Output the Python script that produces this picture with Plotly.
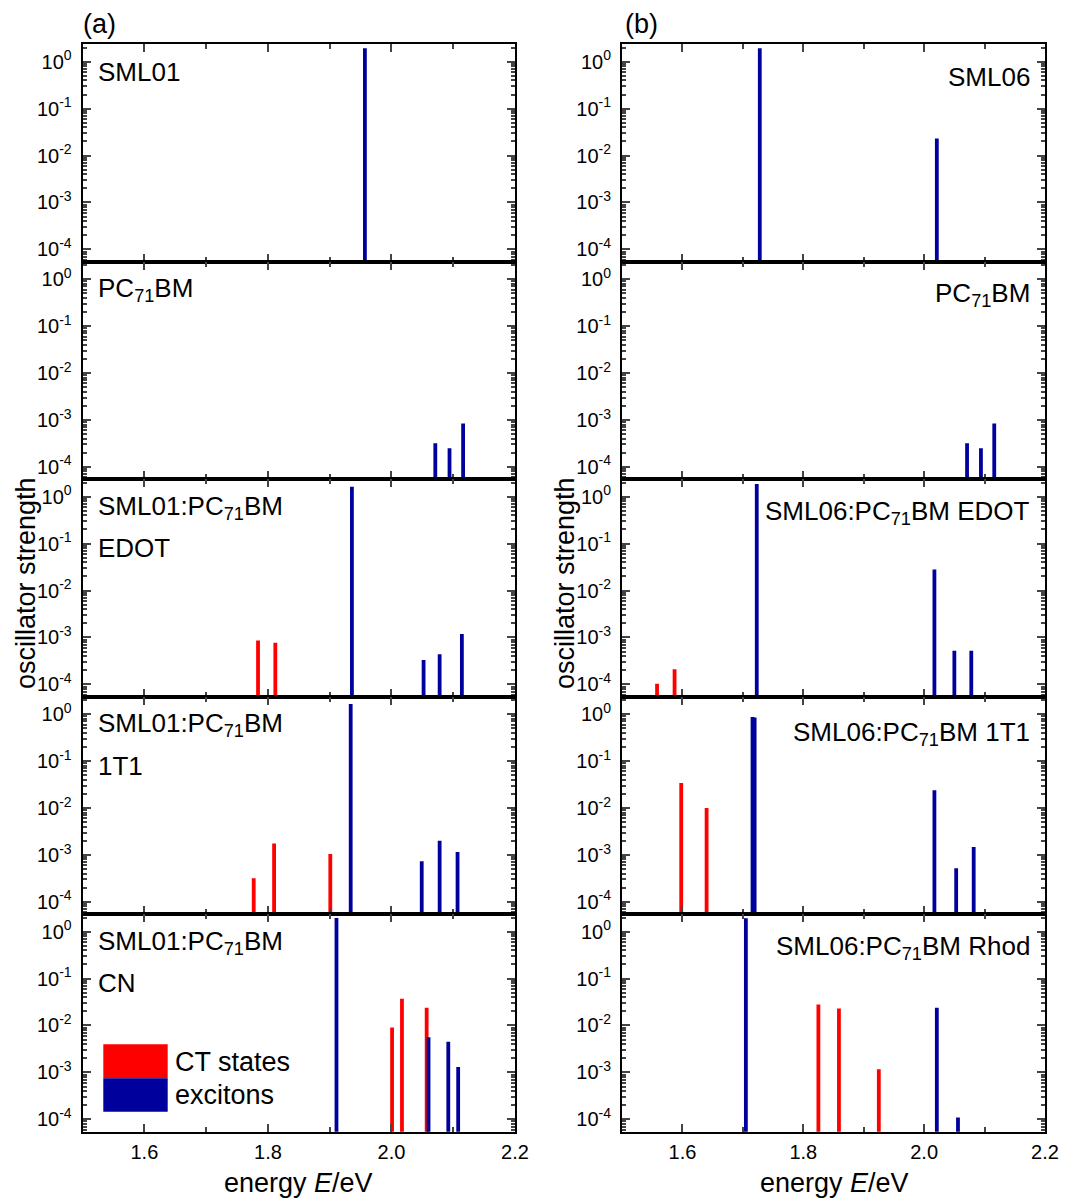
import plotly.graph_objects as go
from plotly.subplots import make_subplots

W, H = 1076, 1202
RED = "#ff0000"
BLUE = "#00009c"
FONT = "Arial, Liberation Sans, sans-serif"

# ---------------- data (energy in eV, oscillator strength) ----------------
# column (a)
sml01_exc_E = [1.957]
sml01_exc_f = [1.93]

pcbm_exc_E = [2.071, 2.094, 2.116]
pcbm_exc_f = [3.2e-4, 2.5e-4, 8.4e-4]

sml01_edot_ct_E = [1.784, 1.812]
sml01_edot_ct_f = [8.6e-4, 7.7e-4]
sml01_edot_exc_E = [1.936, 2.052, 2.078, 2.114]
sml01_edot_exc_f = [1.63, 3.3e-4, 4.4e-4, 1.18e-3]

sml01_1t1_ct_E = [1.777, 1.810, 1.901]
sml01_1t1_ct_f = [3.2e-4, 1.75e-3, 1.05e-3]
sml01_1t1_exc_E = [1.934, 2.049, 2.078, 2.107]
sml01_1t1_exc_f = [1.64, 7.3e-4, 2.0e-3, 1.16e-3]

sml01_cn_ct_E = [2.001, 2.017, 2.057]
sml01_cn_ct_f = [9.0e-3, 3.7e-2, 2.4e-2]
sml01_cn_exc_E = [1.911, 2.060, 2.092, 2.108]
sml01_cn_exc_f = [1.94, 5.6e-3, 4.5e-3, 1.3e-3]

# column (b)
sml06_exc_E = [1.728, 2.021]
sml06_exc_f = [1.93, 2.3e-2]

sml06_edot_ct_E = [1.558, 1.587]
sml06_edot_ct_f = [1.03e-4, 2.1e-4]
sml06_edot_exc_E = [1.723, 2.017, 2.050, 2.078]
sml06_edot_exc_f = [1.87, 2.8e-2, 5.2e-4, 5.2e-4]

sml06_1t1_ct_E = [1.598, 1.640]
sml06_1t1_ct_f = [3.4e-2, 1.0e-2]
sml06_1t1_exc_E = [1.716, 1.7195, 2.017, 2.053, 2.082]
sml06_1t1_exc_f = [0.87, 0.85, 2.4e-2, 5.2e-4, 1.48e-3]

sml06_rhod_ct_E = [1.825, 1.859, 1.925]
sml06_rhod_ct_f = [2.8e-2, 2.3e-2, 1.16e-3]
sml06_rhod_exc_E = [1.705, 2.021, 2.056]
sml06_rhod_exc_f = [1.93, 2.4e-2, 1.09e-4]

x_tick_vals = [1.6, 1.8, 2.0, 2.2]
x_tick_text = ["1.6", "1.8", "2.0", "2.2"]
x_minor_vals = [1.5, 1.7, 1.9, 2.1]
y_tick_vals = [1e-4, 1e-3, 1e-2, 1e-1, 1]
y_tick_text = ["10<sup>-4</sup>", "10<sup>-3</sup>", "10<sup>-2</sup>", "10<sup>-1</sup>", "10<sup>0</sup>"]

panels = {
    (1, 1): ("SML01", None, [], [], sml01_exc_E, sml01_exc_f),
    (2, 1): ("PC<sub>71</sub>BM", None, [], [], pcbm_exc_E, pcbm_exc_f),
    (3, 1): ("SML01:PC<sub>71</sub>BM", "EDOT", sml01_edot_ct_E, sml01_edot_ct_f, sml01_edot_exc_E, sml01_edot_exc_f),
    (4, 1): ("SML01:PC<sub>71</sub>BM", "1T1", sml01_1t1_ct_E, sml01_1t1_ct_f, sml01_1t1_exc_E, sml01_1t1_exc_f),
    (5, 1): ("SML01:PC<sub>71</sub>BM", "CN", sml01_cn_ct_E, sml01_cn_ct_f, sml01_cn_exc_E, sml01_cn_exc_f),
    (1, 2): ("SML06", None, [], [], sml06_exc_E, sml06_exc_f),
    (2, 2): ("PC<sub>71</sub>BM", None, [], [], pcbm_exc_E, pcbm_exc_f),
    (3, 2): ("SML06:PC<sub>71</sub>BM EDOT", None, sml06_edot_ct_E, sml06_edot_ct_f, sml06_edot_exc_E, sml06_edot_exc_f),
    (4, 2): ("SML06:PC<sub>71</sub>BM 1T1", None, sml06_1t1_ct_E, sml06_1t1_ct_f, sml06_1t1_exc_E, sml06_1t1_exc_f),
    (5, 2): ("SML06:PC<sub>71</sub>BM Rhod", None, sml06_rhod_ct_E, sml06_rhod_ct_f, sml06_rhod_exc_E, sml06_rhod_exc_f),
}

BASE = 1e-7


def sticks(E, f):
    xs, ys = [], []
    for e, v in zip(E, f):
        xs += [e, e, None]
        ys += [BASE, v, None]
    return xs, ys


fig = make_subplots(rows=5, cols=2, vertical_spacing=0, horizontal_spacing=0.05)

# geometry (pixels)
col_x = {1: (82.6, 515.0), 2: (622.0, 1045.0)}
top, bottom = 44.3, 1131.7
ph = (bottom - top) / 5


def px(x):
    return x / W


def py(y):
    return 1 - y / H


y_minor = [k * 10 ** e for e in range(-5, 1) for k in range(2, 10)]
tf = dict(size=20, family=FONT, color="black")
LAB = dict(size=26, family=FONT, color="black")
TIT = dict(size=27, family=FONT, color="black")
right_label_dy = {1: 33, 2: 33, 3: 33, 4: 37, 5: 33}

for (r, c), (lab1, lab2, ctE, ctf, exE, exf) in panels.items():
    if ctE:
        xs, ys = sticks(ctE, ctf)
        fig.add_trace(go.Scatter(x=xs, y=ys, mode="lines", line=dict(color=RED, width=3.8),
                                 showlegend=False, hoverinfo="skip"), row=r, col=c)
    xs, ys = sticks(exE, exf)
    fig.add_trace(go.Scatter(x=xs, y=ys, mode="lines", line=dict(color=BLUE, width=3.8),
                             showlegend=False, hoverinfo="skip"), row=r, col=c)
    x0, x1 = col_x[c]
    t = top + (r - 1) * ph
    b = t + ph
    fig.update_xaxes(row=r, col=c, domain=[px(x0), px(x1)], range=[1.5, 2.2], automargin=False,
                     tickmode="array", tickvals=x_tick_vals, ticktext=x_tick_text,
                     showticklabels=(r == 5), ticks="inside", ticklen=8, tickwidth=2,
                     minor=dict(tickvals=x_minor_vals, ticks="inside", ticklen=5, tickwidth=2),
                     showline=True, linecolor="black", linewidth=2, mirror="allticks",
                     showgrid=False, zeroline=False, ticklabelstandoff=1, tickfont=tf)
    fig.update_yaxes(row=r, col=c, domain=[py(b), py(t)], type="log", range=[-4.264, 0.371],
                     automargin=False,
                     tickmode="array", tickvals=y_tick_vals, ticktext=y_tick_text,
                     ticks="inside", ticklen=8, tickwidth=2,
                     minor=dict(tickvals=y_minor, ticks="inside", ticklen=4, tickwidth=1.5),
                     showline=True, linecolor="black", linewidth=2, mirror="allticks",
                     showgrid=False, zeroline=False, ticklabelstandoff=5, tickfont=tf)

    # panel labels
    if c == 1:
        fig.add_annotation(xref="paper", yref="paper", x=px(96), y=py(t + 28),
                           xanchor="left", yanchor="middle", text=lab1, showarrow=False, font=LAB)
        if lab2:
            fig.add_annotation(xref="paper", yref="paper", x=px(96), y=py(t + 69),
                               xanchor="left", yanchor="middle", text=lab2, showarrow=False, font=LAB)
    else:
        fig.add_annotation(xref="paper", yref="paper", x=px(1032), y=py(t + right_label_dy[r]),
                           xanchor="right", yanchor="middle", text=lab1, showarrow=False, font=LAB)

# panel letters
fig.add_annotation(xref="paper", yref="paper", x=px(81), y=py(24), xanchor="left", yanchor="middle",
                   text="(a)", showarrow=False, font=TIT)
fig.add_annotation(xref="paper", yref="paper", x=px(623), y=py(24), xanchor="left", yanchor="middle",
                   text="(b)", showarrow=False, font=TIT)

# axis titles
for xc in (26, 565):
    fig.add_annotation(xref="paper", yref="paper", x=px(xc), y=py(583), textangle=-90,
                       xanchor="center", yanchor="middle", text="oscillator strength", showarrow=False,
                       font=TIT)
for xc in (298, 834):
    fig.add_annotation(xref="paper", yref="paper", x=px(xc), y=py(1183),
                       xanchor="center", yanchor="middle", text="energy <i>E</i>/eV", showarrow=False,
                       font=TIT)

# legend (panel 5, column a)
fig.add_shape(type="rect", xref="paper", yref="paper", x0=px(103.3), x1=px(167.7), y0=py(1078.3), y1=py(1044.3),
              fillcolor=RED, line=dict(width=0))
fig.add_shape(type="rect", xref="paper", yref="paper", x0=px(103.3), x1=px(167.7), y0=py(1111.7), y1=py(1078.3),
              fillcolor=BLUE, line=dict(width=0))
fig.add_annotation(xref="paper", yref="paper", x=px(173), y=py(1062), xanchor="left", yanchor="middle",
                   text="CT states", showarrow=False, font=TIT)
fig.add_annotation(xref="paper", yref="paper", x=px(173), y=py(1095), xanchor="left", yanchor="middle",
                   text="excitons", showarrow=False, font=TIT)

fig.update_layout(width=W, height=H, autosize=False, margin=dict(l=0, r=0, t=0, b=0, pad=0),
                  plot_bgcolor="white", paper_bgcolor="white",
                  font=dict(family=FONT, color="black"), showlegend=False)

fig.write_html("out.html", config={"responsive": False, "displayModeBar": False},
               post_script="document.body.style.margin='0px';document.body.style.overflow='hidden';")
